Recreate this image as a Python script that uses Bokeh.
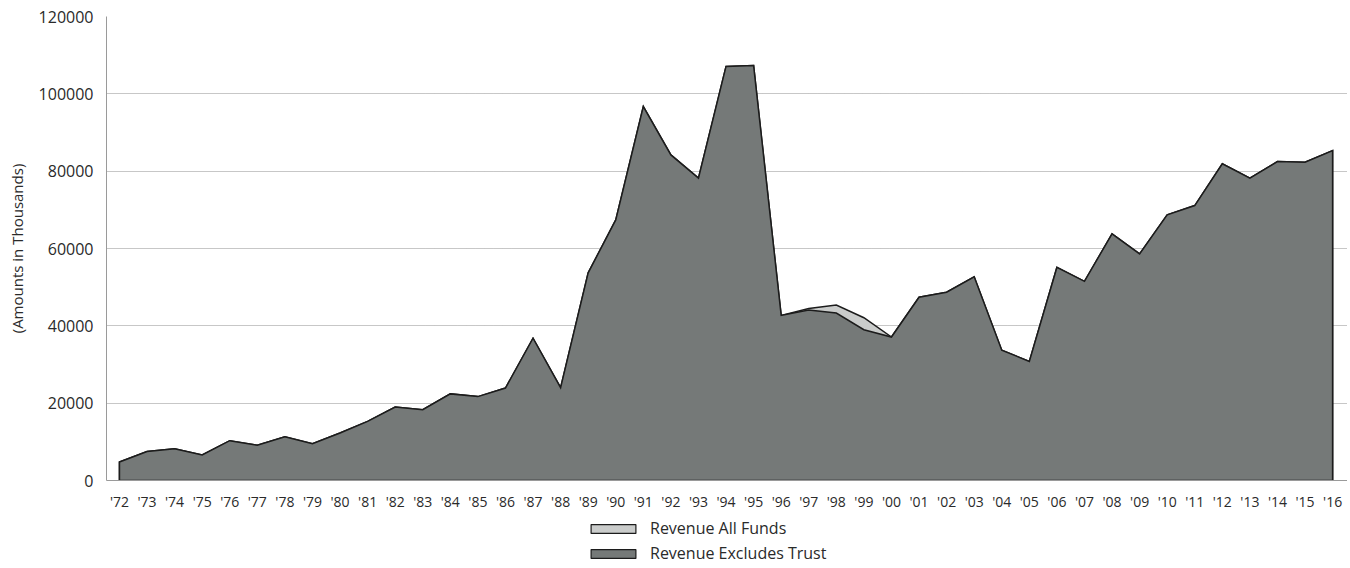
from bokeh.plotting import figure
from bokeh.layouts import column
from bokeh.models import FixedTicker, Legend, LegendItem, NumeralTickFormatter, Range1d
from bokeh.embed import file_html
from bokeh.resources import INLINE

# ---- data ----
years = list(range(1972, 2017))
year_labels = ["'72", "'73", "'74", "'75", "'76", "'77", "'78", "'79", "'80", "'81",
               "'82", "'83", "'84", "'85", "'86", "'87", "'88", "'89", "'90", "'91",
               "'92", "'93", "'94", "'95", "'96", "'97", "'98", "'99", "'00", "'01",
               "'02", "'03", "'04", "'05", "'06", "'07", "'08", "'09", "'10", "'11",
               "'12", "'13", "'14", "'15", "'16"]
revenue_excludes_trust = [4800, 7500, 8200, 6600, 10300, 9100, 11300, 9500, 12300, 15300,
                          19000, 18300, 22400, 21700, 23900, 36800, 24000, 53700, 67400, 96700,
                          84200, 78200, 107100, 107300, 42700, 44100, 43300, 39000, 37100, 47400,
                          48700, 52700, 33700, 30800, 55100, 51500, 63800, 58600, 68700, 71100,
                          81900, 78200, 82500, 82300, 85300]
revenue_all_funds = [4800, 7500, 8200, 6600, 10300, 9100, 11300, 9500, 12300, 15300,
                     19000, 18300, 22400, 21700, 23900, 36800, 24000, 53700, 67400, 96700,
                     84200, 78200, 107100, 107300, 42700, 44500, 45400, 42100, 37100, 47400,
                     48700, 52700, 33700, 30800, 55100, 51500, 63800, 58600, 68700, 71100,
                     81900, 78200, 82500, 82300, 85300]
y_ticks = [0, 20000, 40000, 60000, 80000, 100000, 120000]
series_labels = ["Revenue All Funds", "Revenue Excludes Trust"]

FONT = "Open Sans"
TXT = "#2a2a2a"
FILL_ALL = "#cacccb"
FILL_EX = "#757978"
EDGE = "#1c1c1c"

p = figure(width=1347, height=513, output_backend="svg", toolbar_location=None,
           x_range=Range1d(1971.53, 2016.54), y_range=Range1d(0, 120000),
           min_border_left=106, min_border_right=0, min_border_top=16, min_border_bottom=33)
p.outline_line_color = None

def closed(xs, ys):
    return xs + [xs[-1], xs[0]], ys + [0, 0]

xa, ya = closed(years, revenue_all_funds)
p.patch(xa, ya, fill_color=FILL_ALL, line_color=EDGE, line_width=1.5, line_join="miter")
xe, ye = closed(years, revenue_excludes_trust)
p.patch(xe, ye, fill_color=FILL_EX, line_color=EDGE, line_width=1.5, line_join="miter")

# axes
p.xaxis.ticker = FixedTicker(ticks=years)
p.xaxis.major_label_overrides = {y: l for y, l in zip(years, year_labels)}
p.xaxis.major_tick_line_color = None
p.xaxis.minor_tick_line_color = None
p.xaxis.axis_line_color = "#9a9a9a"
p.xaxis.major_label_text_font = FONT
p.xaxis.major_label_text_font_size = "14px"
p.xaxis.major_label_text_color = TXT
p.xaxis.major_label_standoff = 5

p.yaxis.ticker = FixedTicker(ticks=y_ticks)
p.yaxis.formatter = NumeralTickFormatter(format="0")
p.yaxis.major_tick_line_color = None
p.yaxis.minor_tick_line_color = None
p.yaxis.axis_line_color = "#9a9a9a"
p.yaxis.major_label_text_font = FONT
p.yaxis.major_label_text_font_size = "16px"
p.yaxis.major_label_text_color = TXT
p.yaxis.major_label_standoff = 7
p.yaxis.axis_label = "(Amounts in Thousands)"
p.yaxis.axis_label_text_font = FONT
p.yaxis.axis_label_text_font_size = "15px"
p.yaxis.axis_label_text_font_style = "normal"
p.yaxis.axis_label_text_color = TXT
p.yaxis.axis_label_standoff = 9

p.xgrid.grid_line_color = None
p.ygrid.grid_line_color = "#8f8f8f"
p.ygrid.grid_line_dash = "1 1"
p.ygrid.grid_line_width = 1

# ---- legend strip below the chart (series drawn off-range, only their keys show) ----
lg = figure(width=1347, height=53, output_backend="svg", toolbar_location=None,
            x_range=Range1d(0, 1), y_range=Range1d(0, 1),
            min_border_left=0, min_border_right=0, min_border_top=0, min_border_bottom=0)
lg.axis.visible = False
lg.grid.visible = False
lg.outline_line_color = None
k_all = lg.patch(xa, ya, fill_color=FILL_ALL, line_color=EDGE, line_width=1.2)
k_ex = lg.patch(xe, ye, fill_color=FILL_EX, line_color=EDGE, line_width=1.2)
legend = Legend(items=[LegendItem(label=series_labels[0], renderers=[k_all]),
                       LegendItem(label=series_labels[1], renderers=[k_ex])],
                location=(479, 2), orientation="vertical",
                glyph_width=56, glyph_height=11, label_standoff=9, spacing=3,
                padding=0, margin=0, border_line_color=None, background_fill_alpha=0,
                label_text_font=FONT, label_text_font_size="16px", label_text_color=TXT)
lg.add_layout(legend, "center")

open("out.html", "w").write(file_html(column(p, lg, spacing=0), INLINE))
